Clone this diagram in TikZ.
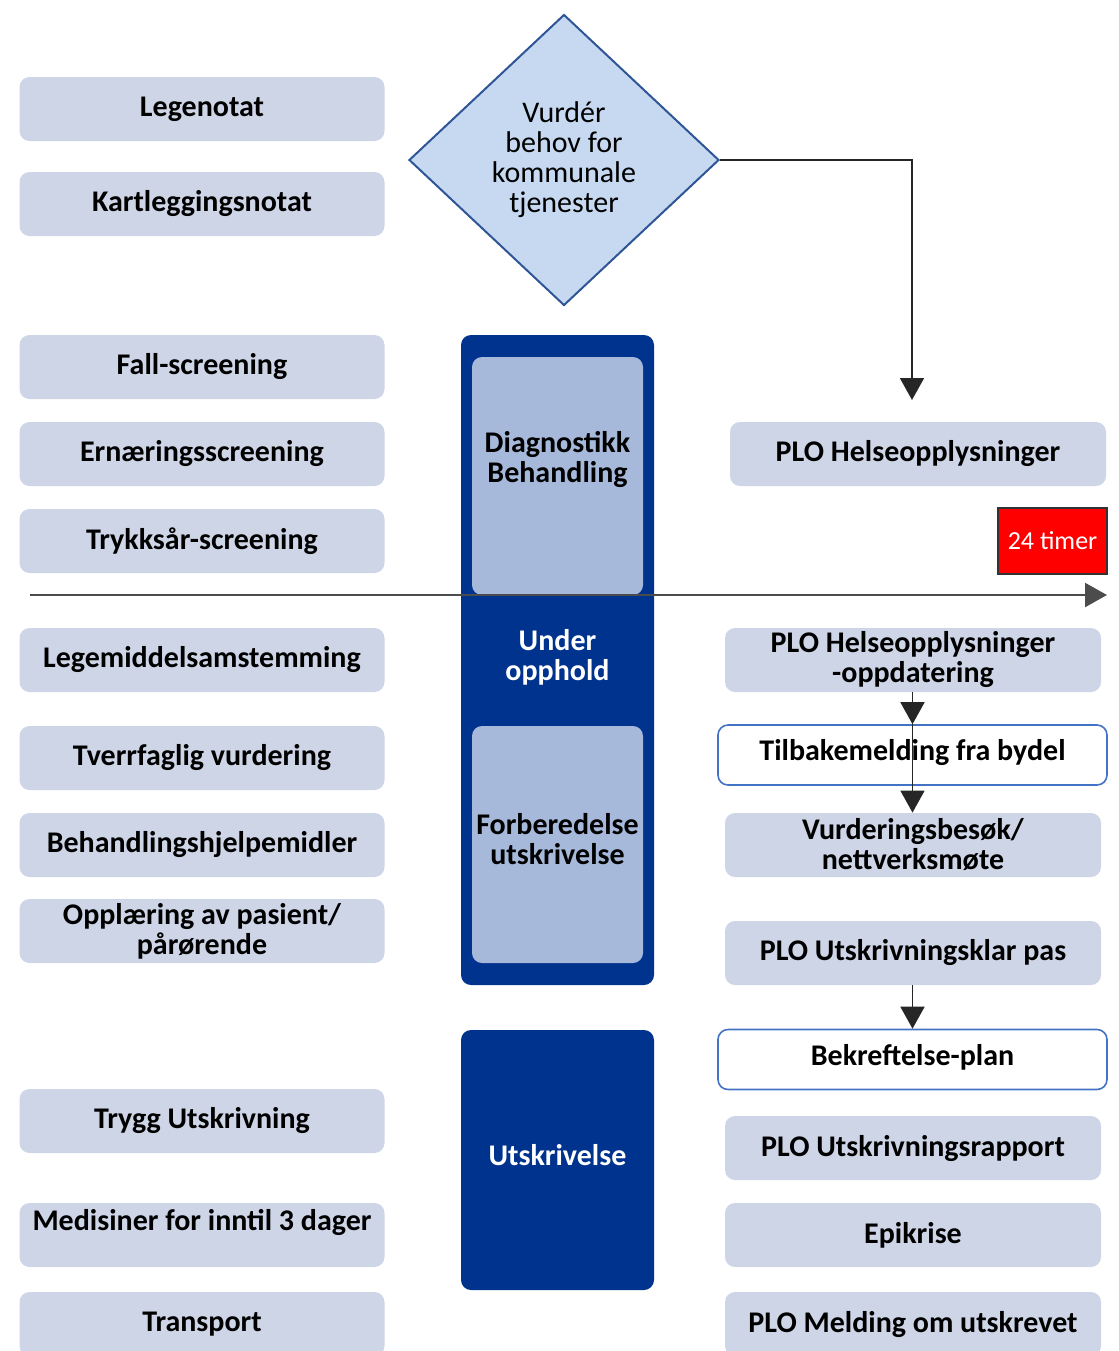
\documentclass[tikz,border=0pt]{standalone}
\usepackage{fontspec}
\setmainfont{Carlito}
\usepackage{xcolor}
\usepackage{tikz}
\usetikzlibrary{shapes.geometric}
\usetikzlibrary{arrows.meta}

\definecolor{boxfill}{HTML}{CED5E7}
\definecolor{diamfill}{HTML}{C6D9F1}
\definecolor{diamline}{HTML}{2F5597}
\definecolor{darknavy}{HTML}{00338D}
\definecolor{innerfill}{HTML}{A6B9DB}
\definecolor{plainline}{HTML}{4472C4}

\begin{document}
\begin{tikzpicture}[x=0.5pt,y=-0.5pt,
  every node/.style={font=\fontsize{15}{15}\selectfont},
  infobox/.style={rectangle, rounded corners=5pt, fill=boxfill, minimum height=32pt, align=center, inner sep=1pt, font=\fontsize{15}{15}\selectfont\bfseries},
  leftbox/.style={infobox, minimum width=182.5pt},
  rightbox/.style={infobox, minimum width=188pt},
  plainbox/.style={infobox, fill=white, draw=plainline, line width=0.8pt, minimum width=194.5pt, minimum height=30pt},
  column/.style={rectangle, rounded corners=5pt, fill=darknavy, text=white, minimum width=96.5pt, align=center, font=\fontsize{15}{15}\selectfont\bfseries},
  phasebox/.style={rectangle, rounded corners=5pt, fill=innerfill, minimum width=85.5pt, inner sep=0.5pt, align=center, font=\fontsize{15}{15}\selectfont\bfseries},
  arr/.style={draw=black!85, line width=0.8pt, -{Triangle[width=12pt,length=11pt]}}]

\clip (0,0) rectangle (1119,1351);

\node (diam) at (564,160) [diamond, aspect=1.065, fill=diamfill, draw=diamline, line width=1pt, minimum width=155pt, minimum height=145.5pt, inner sep=0pt, align=center] {Vurdér\\behov for\\kommunale\\tjenester};

\node (lege) at (202,109) [leftbox] {Legenotat};
\node (kart) at (202,204) [leftbox] {Kartleggingsnotat};
\node (fall) at (202,367) [leftbox] {Fall-screening};
\node (ernaer) at (202,454) [leftbox] {Ernæringsscreening};
\node (trykk) at (202,541) [leftbox] {Trykksår-screening};
\node (legem) at (202,660) [leftbox] {Legemiddelsamstemming};
\node (tverr) at (202,758) [leftbox] {Tverrfaglig vurdering};
\node (hjelpem) at (202,845) [leftbox] {Behandlingshjelpemidler};
\node (opplaer) at (202,931) [leftbox] {Opplæring av pasient/\\pårørende};
\node (trygg) at (202,1121) [leftbox] {Trygg Utskrivning};
\node (medis) at (202,1235) [leftbox, text depth=15pt] {Medisiner for inntil 3 dager};
\node (transp) at (202,1324) [leftbox] {Transport};

\node (opphold) at (557.5,660) [column, minimum height=325pt] {};
\node (diag) at (557.5,476) [phasebox, minimum height=119pt, text depth=19pt] {Diagnostikk\\Behandling};
\node (forb) at (557.5,844.5) [phasebox, minimum height=118.5pt, text depth=6pt] {Forberedelse\\utskrivelse};
\node (underopph) at (557.5,657) [column, fill=none] {Under\\opphold};
\node (utskr) at (557.5,1160) [column, minimum height=130pt, text depth=5pt] {Utskrivelse};

\node (plohelse) at (918,454) [rightbox] {PLO Helseopplysninger};
\node (timer) at (1052.5,541) [rectangle, fill=red, draw=black!80, line width=0.8pt, text=white, minimum width=54.5pt, minimum height=33pt, inner sep=1pt, font=\fontsize{13}{15}\selectfont] {24 timer};
\node (ploopp) at (913,660) [rightbox] {PLO Helseopplysninger\\-oppdatering};
\node (tilbake) at (912.5,755) [plainbox, text depth=5pt] {Tilbakemelding fra bydel};
\node (vurd) at (913,845) [rightbox] {Vurderingsbesøk/\\nettverksmøte};
\node (ploklar) at (913,953) [rightbox] {PLO Utskrivningsklar pas};
\node (bekr) at (912.5,1059.5) [plainbox, text depth=5pt] {Bekreftelse-plan};
\node (plorapp) at (913,1148) [rightbox] {PLO Utskrivningsrapport};
\node (epik) at (913,1235) [rightbox] {Epikrise};
\node (plomeld) at (913,1324) [rightbox] {PLO Melding om utskrevet};

\coordinate (helsetop) at (912,400);
\coordinate (tstart) at (30,595);
\coordinate (tend) at (1107,595);

\draw[arr, draw=black!70, line width=1.2pt] (tstart) -- (tend);
\draw[arr] (diam.east) -| (helsetop);
\draw[arr] (ploopp.south -| tilbake.north) -- (tilbake.north);
\draw[arr] (tilbake.north) -- (vurd.north -| tilbake.north);
\draw[arr] (ploklar.south -| bekr.north) -- (bekr.north);
\end{tikzpicture}
\end{document}
